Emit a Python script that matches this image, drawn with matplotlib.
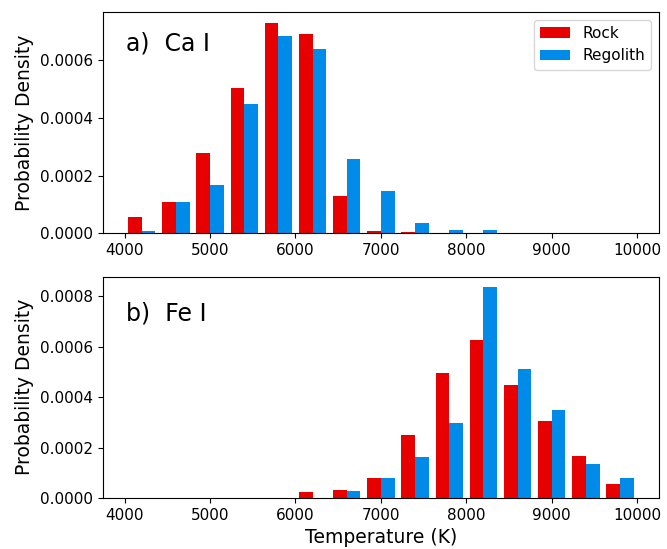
import numpy as np
import matplotlib
matplotlib.use('Agg')
import matplotlib.pyplot as plt

# histogram bins (K)
bin_edges = np.arange(4000, 10001, 400)
bin_centers = (bin_edges[:-1] + bin_edges[1:]) / 2

# probability densities read per bin, 4000-10000 K in 400 K steps
ca_rock = [5.8e-5, 1.10e-4, 2.77e-4, 5.03e-4, 7.28e-4, 6.90e-4, 1.28e-4,
           9e-6, 6e-6, 0, 0, 0, 0, 0, 0]
ca_regolith = [1.0e-5, 1.10e-4, 1.68e-4, 4.46e-4, 6.83e-4, 6.38e-4,
               2.58e-4, 1.45e-4, 3.45e-5, 1.2e-5, 1.2e-5, 0, 0, 0, 0]
fe_rock = [0, 0, 0, 0, 0, 2.2e-5, 3.2e-5, 7.9e-5, 2.48e-4, 4.96e-4,
           6.25e-4, 4.46e-4, 3.07e-4, 1.68e-4, 5.6e-5]
fe_regolith = [0, 0, 0, 0, 0, 0, 2.8e-5, 7.9e-5, 1.63e-4, 2.98e-4,
               8.36e-4, 5.11e-4, 3.50e-4, 1.34e-4, 7.9e-5]

labels = ['Rock', 'Regolith']
colors = ['#e60000', '#008be8']

fig, (ax1, ax2) = plt.subplots(2, 1, figsize=(6.67, 5.49), dpi=100)
fig.subplots_adjust(left=0.154, right=0.988, top=0.978, bottom=0.093,
                    hspace=0.195)

panels = [(ax1, ca_rock, ca_regolith, 'a)  Ca I', 0.86),
          (ax2, fe_rock, fe_regolith, 'b)  Fe I', 0.835)]

for ax, rock, regolith, title, ty in panels:
    ax.hist([bin_centers, bin_centers], bins=bin_edges,
            weights=[rock, regolith], color=colors, label=labels)
    ax.text(0.041, ty, title, transform=ax.transAxes, fontsize=17,
            ha='left', va='center')
    ax.set_ylabel('Probability Density', fontsize=13.5)
    ax.tick_params(labelsize=11)

ax1.legend(loc='upper right', fontsize=11)
ax2.set_xlabel('Temperature (K)', fontsize=13.5)

fig.savefig('out.png', dpi=100)
